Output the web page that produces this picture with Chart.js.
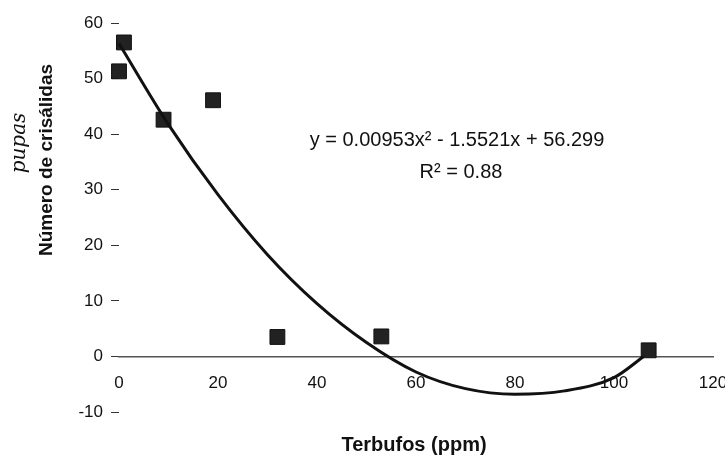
<!DOCTYPE html>
<html>
<head>
<meta charset="utf-8">
<script src="https://cdn.jsdelivr.net/npm/chart.js@4/dist/chart.umd.min.js"></script>
<style>
  html, body { margin: 0; padding: 0; background: #fff; }
  #wrap { width: 725px; height: 457px; }
</style>
</head>
<body>
<div id="wrap"><canvas id="chart" width="725" height="457"></canvas></div>
<script>
// puntos observados (Terbufos ppm vs numero de pupas)
const terbufos = [0, 1, 9, 19, 32, 53, 107];
const pupas = [51.3, 56.5, 42.6, 46.1, 3.5, 3.6, 1.1];

// linea de tendencia
const trendX = [0, 10, 20, 30, 40, 50, 60, 70, 80, 90, 100, 106];
const trendY = [56.3, 41.7, 29.1, 18.3, 9.5, 2.5, -2.8, -5.8, -6.8, -6.2, -3.8, 0.0];

const xTicks = [0, 20, 40, 60, 80, 100, 120];
const yTicks = [-10, 0, 10, 20, 30, 40, 50, 60];

const equationText = 'y = 0.00953x² - 1.5521x + 56.299';
const r2Text = 'R² = 0.88';

const textPlugin = {
    id: 'textPlugin',
    afterDraw(chart) {
        const ctx = chart.ctx;
        ctx.save();
        ctx.fillStyle = '#111';
        ctx.textAlign = 'center';
        ctx.textBaseline = 'middle';

        // ecuacion
        ctx.font = '20px "Liberation Sans", Arial, sans-serif';
        ctx.fillText(equationText, 457, 140);
        ctx.fillText(r2Text, 461, 172);

        // titulo eje x
        ctx.font = 'bold 20px "Liberation Sans", Arial, sans-serif';
        ctx.fillText('Terbufos (ppm)', 414, 445);

        // titulo eje y
        ctx.save();
        ctx.translate(47, 160);
        ctx.rotate(-Math.PI / 2);
        ctx.font = 'bold 19px "Liberation Sans", Arial, sans-serif';
        ctx.fillText('Número de crisálidas', 0, 0);
        ctx.restore();

        // anotacion a mano
        ctx.save();
        ctx.translate(20, 143);
        ctx.rotate(-Math.PI / 2);
        ctx.font = 'italic 20px "DejaVu Serif", serif';
        ctx.fillText('pupas', 0, 0);
        ctx.restore();

        ctx.restore();
    }
};

const ctx = document.getElementById('chart').getContext('2d');
new Chart(ctx, {
    type: 'scatter',
    data: {
        datasets: [
            {
                type: 'line',
                label: 'Tendencia',
                data: trendX.map((x, i) => ({ x: x, y: trendY[i] })),
                borderColor: '#111',
                borderWidth: 3,
                pointRadius: 0,
                fill: false,
                clip: false,
                cubicInterpolationMode: 'monotone'
            },
            {
                label: 'Pupas',
                data: terbufos.map((x, i) => ({ x: x, y: pupas[i] })),
                pointStyle: 'rect',
                pointRadius: 10.5,
                backgroundColor: '#222',
                borderColor: '#111',
                borderWidth: 1,
                clip: false
            }
        ]
    },
    options: {
        responsive: false,
        animation: false,
        layout: {
            padding: { top: 23, right: 12, bottom: 45, left: 0 }
        },
        plugins: {
            legend: { display: false },
            tooltip: { enabled: false }
        },
        scales: {
            x: {
                type: 'linear',
                position: { y: 0 },
                min: 0,
                max: 120,
                afterBuildTicks: (scale) => { scale.ticks = xTicks.map(v => ({ value: v })); },
                afterFit: (scale) => { scale.paddingLeft = 0; scale.paddingRight = 0; },
                grid: { display: false },
                border: { display: true, color: '#555', width: 1.5 },
                ticks: {
                    color: '#111',
                    padding: 9,
                    font: { family: '"Liberation Sans", Arial, sans-serif', size: 17 }
                }
            },
            y: {
                type: 'linear',
                position: 'left',
                min: -10,
                max: 60,
                afterBuildTicks: (scale) => { scale.ticks = yTicks.map(v => ({ value: v })); },
                afterFit: (scale) => { scale.width = 119; },
                grid: {
                    drawOnChartArea: false,
                    drawTicks: true,
                    tickLength: 8,
                    color: '#333',
                    lineWidth: 1
                },
                border: { display: false },
                ticks: {
                    color: '#111',
                    padding: 8,
                    font: { family: '"Liberation Sans", Arial, sans-serif', size: 17 }
                }
            }
        }
    },
    plugins: [textPlugin]
});
</script>
</body>
</html>
